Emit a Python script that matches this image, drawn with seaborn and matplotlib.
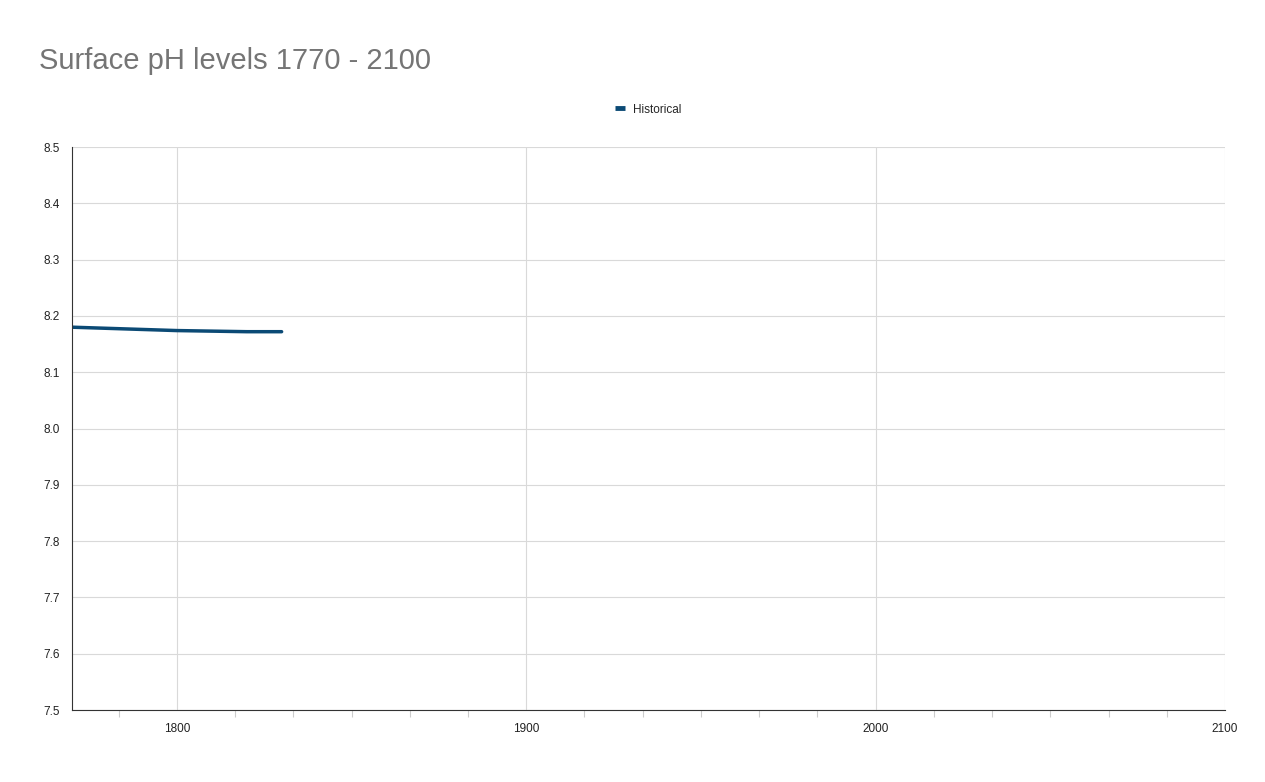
import matplotlib
matplotlib.use("Agg")
import matplotlib.pyplot as plt
import seaborn as sns
import pandas as pd
import numpy as np
from matplotlib.ticker import MultipleLocator

years = [1770, 1780, 1790, 1800, 1810, 1820, 1830]
ph = [8.180, 8.178, 8.176, 8.174, 8.173, 8.172, 8.172]
series_name = "Historical"

sns.set_theme(style="white")
plt.rcParams['font.family'] = ['Liberation Sans', 'DejaVu Sans']

fig = plt.figure(figsize=(12.65, 7.82), dpi=100)
ax = fig.add_axes([0.0569, 0.092, 0.9115, 0.72])
df = pd.DataFrame({"Year": years, "pH": ph})
sns.lineplot(data=df, x="Year", y="pH", ax=ax, color="#0b4a75", linewidth=2.5, label=series_name)

ax.set_xlim(1770, 2100)
ax.set_ylim(7.5, 8.5)
ax.set_xticks([1800, 1900, 2000, 2100])
ax.xaxis.set_minor_locator(MultipleLocator(100/6))
ax.set_yticks(np.round(np.arange(7.5, 8.51, 0.1), 1))
ax.set_yticklabels([f"{v:.1f}" for v in np.arange(7.5, 8.51, 0.1)])
ax.grid(True, which="major", color="#d9d9d9", linewidth=0.8)
ax.tick_params(axis="both", which="major", labelsize=8.5, colors="#222222", length=0, pad=9)
ax.tick_params(axis="x", which="minor", bottom=True, length=5, color="#cccccc", width=0.8)
ax.set_xlabel("")
ax.set_ylabel("")
for s in ["top", "right"]:
    ax.spines[s].set_visible(False)
ax.spines["left"].set_color("#333333")
ax.spines["bottom"].set_color("#333333")
ax.spines["left"].set_linewidth(0.8)
ax.spines["bottom"].set_linewidth(0.8)

leg = ax.legend(loc="upper center", bbox_to_anchor=(0.5, 1.096), frameon=False,
                fontsize=8.5, handlelength=0.8, handletextpad=0.7)
for line in leg.get_lines():
    line.set_linewidth(3.5)
    line.set_solid_capstyle("butt")

fig.text(0.031, 0.912, "Surface pH levels 1770 - 2100", fontsize=21, color="#757575")
fig.savefig("out.png", dpi=100)
